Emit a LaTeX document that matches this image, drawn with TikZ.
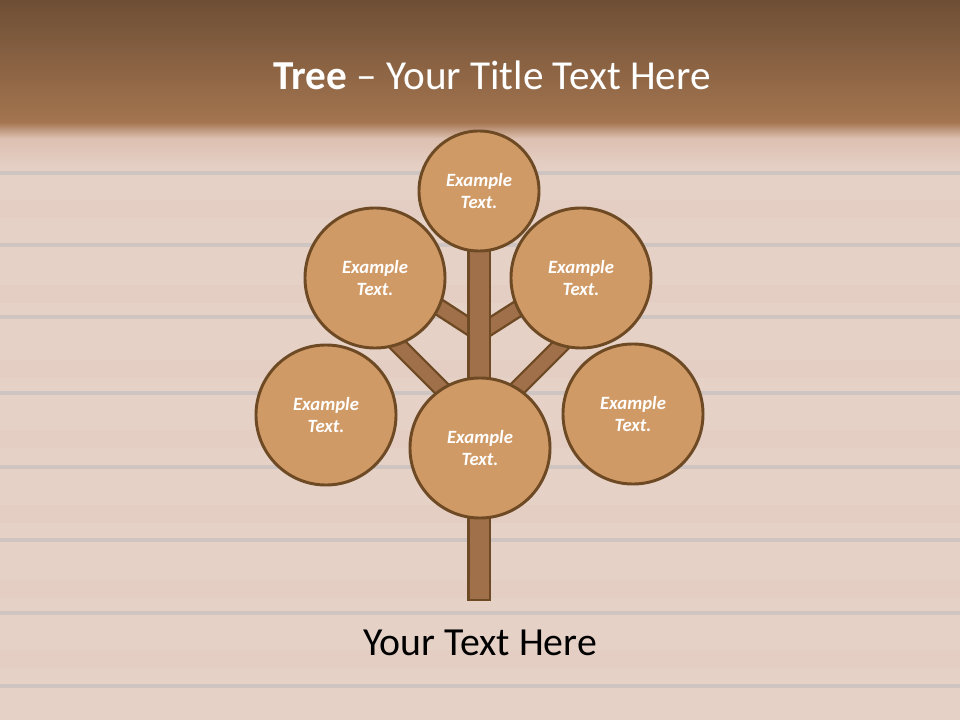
\documentclass[tikz,border=0pt]{standalone}
\usepackage{fontspec}
\setmainfont{Carlito}
\begin{document}
\begin{tikzpicture}[x=0.025cm,y=-0.025cm,
  leaf/.style={circle,draw=branchdark,line width=2.1pt,fill=leaffill,
    text=white,font=\fontsize{13.3}{16.3}\selectfont\bfseries\itshape,align=center,inner sep=0pt},
  bigleaf/.style={leaf,minimum size=3.5cm},
  smallleaf/.style={leaf,minimum size=3.0cm},
  branchout/.style={draw=branchdark,line width=12.8pt},
  branchin/.style={draw=barkfill,line width=9.4pt},
  plank/.style={draw=plankline,line width=2.8pt}]
\definecolor{leaffill}{HTML}{D09A66}
\definecolor{branchdark}{HTML}{6E4A24}
\definecolor{barkfill}{HTML}{A0704A}
\definecolor{topdark}{HTML}{6E4F35}
\definecolor{toplight}{HTML}{A47550}
\definecolor{woodbase}{HTML}{E6D1C7}
\definecolor{woodwarm}{HTML}{DCBFAF}
\definecolor{plankline}{HTML}{CEC5C3}
\useasboundingbox (0,0) rectangle (960,720);
% background
\fill[woodbase] (0,120) rectangle (960,720);
\shade[top color=woodwarm,bottom color=woodbase] (0,135) rectangle (960,172);
\shade[top color=toplight,bottom color=woodwarm] (0,122) rectangle (960,138);
\shade[top color=topdark,bottom color=toplight] (0,0) rectangle (960,123);
\foreach \yy in {173,245,317,393,467,540,613,686}
  \draw[plank] (0,\yy) -- (960,\yy);
\foreach \yy/\op in {200/0.2,285/0.18,360/0.18,430/0.12,505/0.18,580/0.12,650/0.18}
  \fill[woodwarm,opacity=\op] (0,\yy) rectangle (960,\yy+18);
% title
\node[text=white,font=\fontsize{29.3}{34}\selectfont] (title) at (492,75)
  {\textbf{Tree} -- Your Title Text Here};
% junction coordinates
\coordinate (jsL) at (479,333);
\coordinate (jsR) at (480,333);
\coordinate (jbL) at (479,426);
\coordinate (jbR) at (480,426);
\coordinate (tipsL) at (405,285);
\coordinate (tipsR) at (555,285);
\coordinate (tipbL) at (392,339);
\coordinate (tipbR) at (568,338);
% branches
\foreach \a/\b in {jsL/tipsL,jsR/tipsR,jbL/tipbL,jbR/tipbR}{
  \draw[branchout] (\a) -- (\b);
  \draw[branchin] (\a) -- (\b);
}
% trunk
\coordinate (trunktop) at (468.5,240);
\coordinate (trunkbot) at (490,600);
\draw[fill=barkfill,draw=branchdark,line width=1.8pt] (trunktop) rectangle (trunkbot);
% leaves
\node[smallleaf] (top) at (479,191) {Example\\Text.};
\node[bigleaf] (ul) at (375,278) {Example\\Text.};
\node[bigleaf] (ur) at (581,278) {Example\\Text.};
\node[bigleaf] (ll) at (326,415) {Example\\Text.};
\node[bigleaf] (lr) at (633,414) {Example\\Text.};
\node[bigleaf] (c) at (480,448) {Example\\Text.};
% bottom text
\node[text=black,font=\fontsize{28.3}{32}\selectfont] (foot) at (480,643) {Your Text Here};
\end{tikzpicture}
\end{document}
